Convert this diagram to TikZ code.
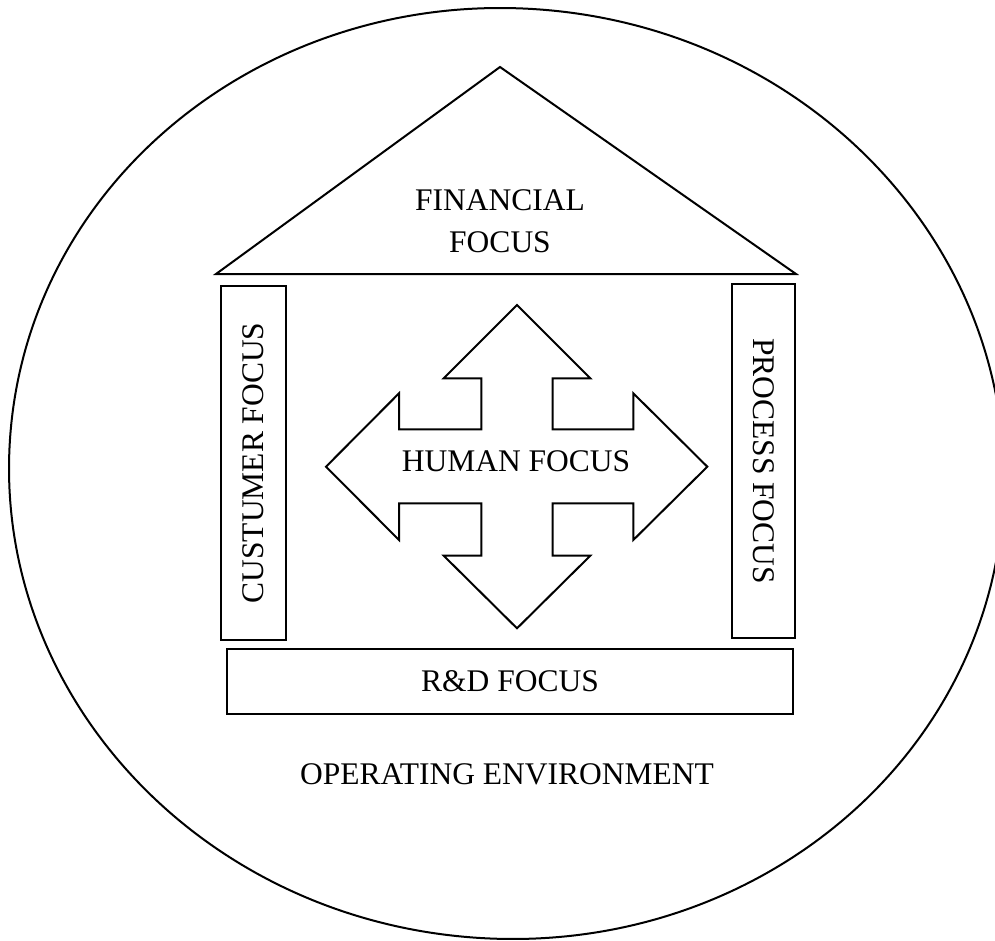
\documentclass[tikz,border=0pt]{standalone}
\usepackage{fontspec}
\setmainfont{Liberation Serif}
\begin{document}
\begin{tikzpicture}[x=1pt,y=-1pt,line width=2pt,line join=miter,
  lbl/.style={inner sep=0pt,font=\fontsize{31.5}{38}\selectfont},
  boxnode/.style={draw,inner sep=0pt,line width=2pt}]
\useasboundingbox (0,0) rectangle (995,941);
% operating environment ellipse
\draw[rotate around={-5:(506.5,473.5)}] (506.5,473.5) ellipse [x radius=497.7, y radius=465.2];
% roof
\coordinate (apex) at (500,67);
\coordinate (rl) at (216,274);
\coordinate (rr) at (796,274);
\draw (apex) -- (rr) -- (rl) -- cycle;
\node[lbl,align=center,font=\fontsize{31.5}{42}\selectfont] (fin) at (500,221) {FINANCIAL\\FOCUS};
% pillars
\node[boxnode,minimum width=65,minimum height=354] (cust) at (253.5,463) {};
\node[lbl,rotate=90] (custt) at (cust.center) {CUSTUMER FOCUS};
\node[boxnode,minimum width=63,minimum height=354] (proc) at (763.5,461) {};
\node[lbl,rotate=-90] (proct) at (proc.center) {PROCESS FOCUS};
% R&D
\node[boxnode,minimum width=566,minimum height=65] (rd) at (510,681.5) {};
\node[lbl] (rdt) at (rd.center) {R\&D FOCUS};
% human focus arrow
\draw (517,305) -- (590.3,378.3) -- (552.7,378.3) -- (552.7,429.3) -- (633.3,429.3) -- (633.3,393.3)
  -- (707.3,466.7) -- (633.3,540) -- (633.3,503.3) -- (552.7,503.3) -- (552.7,555.7) -- (590.3,555.7)
  -- (517,628.3) -- (443.7,555.7) -- (481.3,555.7) -- (481.3,503.3) -- (399,503.3) -- (399,540)
  -- (326,466.7) -- (399,393.3) -- (399,429.3) -- (481.3,429.3) -- (481.3,378.3) -- (443.7,378.3) -- cycle;
\node[lbl] (hum) at (516,461) {HUMAN FOCUS};
% operating environment label
\node[lbl] (env) at (507,774) {OPERATING ENVIRONMENT};
\end{tikzpicture}
\end{document}
